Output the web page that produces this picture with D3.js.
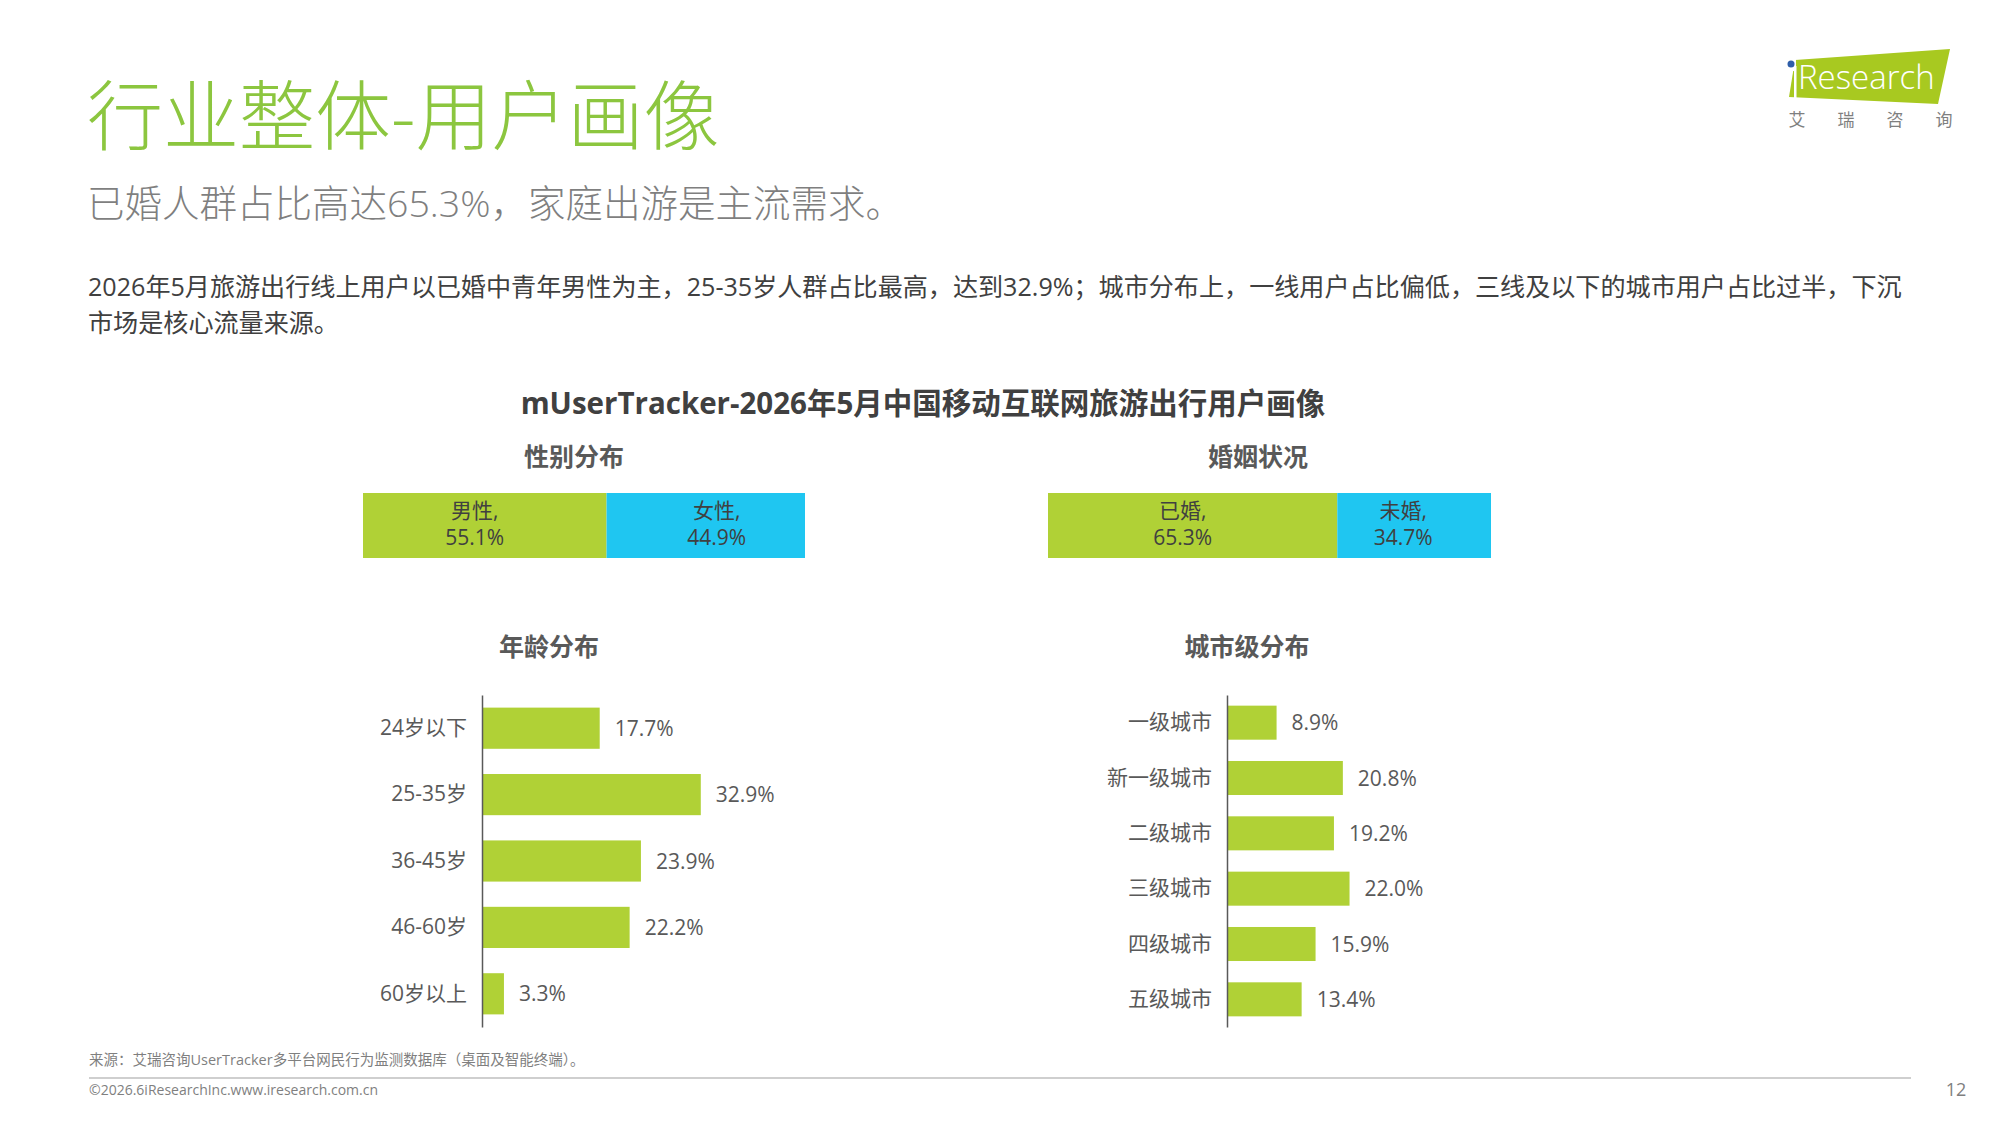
<!DOCTYPE html>
<html>
<head>
<meta charset="utf-8">
<script src="https://cdn.jsdelivr.net/npm/d3@7"></script>
<style>
  body { margin: 0; background: #fff; }
  svg { display: block; }
  text { font-family: "Open Sans", "Noto Sans CJK SC", sans-serif; }
</style>
</head>
<body>
<svg id="slide"></svg>
<script>
/* CONSTANTS AND GLOBALS */
const width = 2000,
  height = 1125;

const green = "#b0d136",
  blue = "#1fc6f1",
  textDark = "#404040",
  textGray = "#595959";

/* DATA */
const genderLabels = ["男性", "女性"];
const genderValues = [55.1, 44.9];

const maritalLabels = ["已婚", "未婚"];
const maritalValues = [65.3, 34.7];

const ageCategories = ["24岁以下", "25-35岁", "36-45岁", "46-60岁", "60岁以上"];
const ageValues = [17.7, 32.9, 23.9, 22.2, 3.3];

const cityCategories = ["一级城市", "新一级城市", "二级城市", "三级城市", "四级城市", "五级城市"];
const cityValues = [8.9, 20.8, 19.2, 22.0, 15.9, 13.4];

const logoChars = ["艾", "瑞", "咨", "询"];

const svg = d3.select("#slide")
  .attr("width", width)
  .attr("height", height);

/* HEADER */
svg.append("text")
  .attr("x", 87).attr("y", 144)
  .attr("font-size", 76)
  .attr("font-weight", 300)
  .attr("fill", "#8cc63f")
  .text("行业整体-用户画像");

svg.append("text")
  .attr("x", 87).attr("y", 217)
  .attr("font-size", 37.5)
  .attr("font-weight", 300)
  .attr("fill", "#7f7f7f")
  .text("已婚人群占比高达65.3%，家庭出游是主流需求。");

const bodyLines = [
  "2026年5月旅游出行线上用户以已婚中青年男性为主，25-35岁人群占比最高，达到32.9%；城市分布上，一线用户占比偏低，三线及以下的城市用户占比过半，下沉",
  "市场是核心流量来源。"
];
svg.selectAll(".body-line")
  .data(bodyLines)
  .join("text")
  .attr("class", "body-line")
  .attr("x", 88)
  .attr("y", (d, i) => 296 + i * 36)
  .attr("font-size", 25.1)
  .attr("fill", textDark)
  .text(d => d);

// logo
const logo = svg.append("g");
logo.append("polygon")
  .attr("points", "1795,60 1950,49 1938,104 1789,97")
  .attr("fill", "#a8c920");
logo.append("rect")
  .attr("x", 1794).attr("y", 66).attr("width", 2.5).attr("height", 32)
  .attr("fill", "#fff");
logo.append("rect")
  .attr("x", 1788).attr("y", 56).attr("width", 8).attr("height", 15)
  .attr("fill", "#fff");
logo.append("circle")
  .attr("cx", 1791).attr("cy", 64).attr("r", 3.5)
  .attr("fill", "#2f5ea8");
logo.append("text")
  .attr("x", 1798).attr("y", 89)
  .attr("font-size", 33)
  .attr("font-weight", 300)
  .attr("fill", "#fff")
  .text("Research");
logo.selectAll(".logo-char")
  .data(logoChars)
  .join("text")
  .attr("class", "logo-char")
  .attr("x", (d, i) => 1797 + i * 49)
  .attr("y", 126)
  .attr("text-anchor", "middle")
  .attr("font-size", 17)
  .attr("fill", "#7f7f7f")
  .text(d => d);

/* CHART TITLES */
svg.append("text")
  .attr("x", 923).attr("y", 414)
  .attr("text-anchor", "middle")
  .attr("font-size", 29.5)
  .attr("font-weight", "bold")
  .attr("fill", textDark)
  .text("mUserTracker-2026年5月中国移动互联网旅游出行用户画像");

const subTitles = [
  { t: "性别分布", x: 574, y: 466 },
  { t: "婚姻状况", x: 1258, y: 466 },
  { t: "年龄分布", x: 549, y: 656 },
  { t: "城市级分布", x: 1247, y: 656 }
];
svg.selectAll(".sub-title")
  .data(subTitles)
  .join("text")
  .attr("class", "sub-title")
  .attr("x", d => d.x)
  .attr("y", d => d.y)
  .attr("text-anchor", "middle")
  .attr("font-size", 25)
  .attr("font-weight", "bold")
  .attr("fill", textGray)
  .text(d => d.t);

/* STACKED 100% BARS */
// shifts: small horizontal nudges of the in-bar labels, as placed on the slide
function stackedBar(labels, values, x0, x1, shifts) {
  const xScale = d3.scaleLinear().domain([0, 100]).range([x0, x1]);
  const starts = d3.cumsum([0].concat(values.slice(0, -1)));
  const segs = values.map((v, i) => ({ label: labels[i], value: v, start: starts[i], shift: shifts[i] }));
  const g = svg.append("g");
  g.selectAll("rect")
    .data(segs)
    .join("rect")
    .attr("x", d => xScale(d.start))
    .attr("y", 493)
    .attr("width", d => xScale(d.start + d.value) - xScale(d.start))
    .attr("height", 65)
    .attr("fill", (d, i) => i === 0 ? green : blue);
  // two-line label: name and share
  g.selectAll(".seg-name")
    .data(segs)
    .join("text")
    .attr("class", "seg-name")
    .attr("x", d => xScale(d.start + d.value / 2) + d.shift)
    .attr("y", 518)
    .attr("text-anchor", "middle")
    .attr("font-size", 21)
    .attr("fill", textDark)
    .text(d => d.label + ",");
  g.selectAll(".seg-val")
    .data(segs)
    .join("text")
    .attr("class", "seg-val")
    .attr("x", d => xScale(d.start + d.value / 2) + d.shift)
    .attr("y", 545)
    .attr("text-anchor", "middle")
    .attr("font-size", 21)
    .attr("fill", textDark)
    .text(d => d.value.toFixed(1) + "%");
}
stackedBar(genderLabels, genderValues, 363, 805, [-10, 11]);
stackedBar(maritalLabels, maritalValues, 1048, 1491, [-10, -11]);

/* HORIZONTAL BAR CHARTS */
function barChart(categories, values, left, pxPerUnit, padding) {
  const xScale = d3.scaleLinear().domain([0, 100]).range([left, left + pxPerUnit * 100]);
  const yScale = d3.scaleBand().domain(categories).range([695, 1027])
    .paddingInner(padding).paddingOuter(padding / 2);
  const g = svg.append("g");

  g.selectAll("rect")
    .data(values)
    .join("rect")
    .attr("x", xScale(0))
    .attr("y", (d, i) => yScale(categories[i]))
    .attr("width", d => xScale(d) - xScale(0))
    .attr("height", yScale.bandwidth())
    .attr("fill", green);

  g.selectAll(".val")
    .data(values)
    .join("text")
    .attr("class", "val")
    .attr("x", d => xScale(d) + 15)
    .attr("y", (d, i) => yScale(categories[i]) + yScale.bandwidth() / 2 + 2)
    .attr("dominant-baseline", "middle")
    .attr("font-size", 21)
    .attr("fill", textGray)
    .text(d => d.toFixed(1) + "%");

  const axis = g.append("g")
    .attr("transform", `translate(${xScale(0)},0)`)
    .call(d3.axisLeft(yScale).tickSize(0).tickSizeOuter(0).tickPadding(15));
  axis.select(".domain").attr("stroke", "#595959").attr("stroke-width", 1.5);
  axis.selectAll("text")
    .attr("font-size", 21)
    .attr("font-family", "'Open Sans', 'Noto Sans CJK SC', sans-serif")
    .attr("fill", textGray);
}
barChart(ageCategories, ageValues, 482, 6.65, 0.38);
barChart(cityCategories, cityValues, 1227, 5.57, 0.385);

/* FOOTER */
svg.append("text")
  .attr("x", 89).attr("y", 1065)
  .attr("font-size", 14.5)
  .attr("fill", "#7f7f7f")
  .text("来源：艾瑞咨询UserTracker多平台网民行为监测数据库（桌面及智能终端）。");

svg.append("line")
  .attr("x1", 89).attr("x2", 1911)
  .attr("y1", 1078).attr("y2", 1078)
  .attr("stroke", "#bfbfbf")
  .attr("stroke-width", 1.5);

svg.append("text")
  .attr("x", 89).attr("y", 1095)
  .attr("font-size", 14)
  .attr("font-family", "'Liberation Sans Narrow', 'Liberation Sans', sans-serif")
  .attr("fill", "#7f7f7f")
  .text("©2026.6iResearchInc.www.iresearch.com.cn");

svg.append("text")
  .attr("x", 1956).attr("y", 1096)
  .attr("text-anchor", "middle")
  .attr("font-size", 18)
  .attr("fill", "#7f7f7f")
  .text("12");
</script>
</body>
</html>
